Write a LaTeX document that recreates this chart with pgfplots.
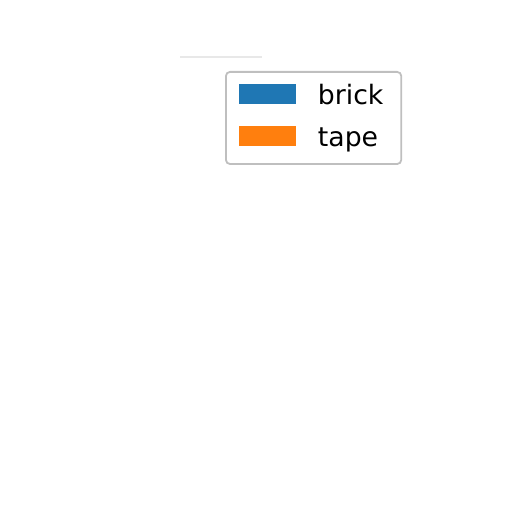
\documentclass[border=0pt]{standalone}
\usepackage{pgfplots}
\pgfplotsset{compat=1.18}
\usepackage{fontspec}
\setmainfont{DejaVu Sans}
\definecolor{tabblue}{HTML}{1F77B4}
\definecolor{taborange}{HTML}{FF7F0E}
% 1 px of the 512 px reference = 0.01in = 0.7227pt
\begin{document}
\begin{tikzpicture}
\path (0,0) rectangle (5.12in,5.12in);
\begin{axis}[
    at={(0,0)}, anchor=south west,
    width=5.12in, height=5.12in, scale only axis,
    xmin=0, xmax=512, ymin=0, ymax=512,
    hide axis,
    legend image code/.code={\fill[#1, sharp corners] (0pt,-4.9pt) rectangle (41.2pt,9.55pt);},
    legend style={
        at={(axis cs:225,441)}, anchor=north west,
        draw=gray!50, line width=1.3pt, rounded corners=3pt,
        fill=white,
        inner xsep=9.4pt, inner ysep=8.5pt,
        column sep=15.9pt, row sep=12pt,
        font=\fontsize{19.3}{22}\selectfont,
        nodes={inner sep=0pt, text height=14.5pt, text depth=4pt},
    },
    legend cell align=left,
]
\draw[gray!18, line width=1.4pt] (axis cs:180,455) -- (axis cs:262,455);
\addlegendimage{fill=tabblue, draw=none}
\addlegendentry{brick\rule{3.5pt}{0pt}}
\addlegendimage{fill=taborange, draw=none}
\addlegendentry{tape}
\end{axis}
\end{tikzpicture}
\end{document}
